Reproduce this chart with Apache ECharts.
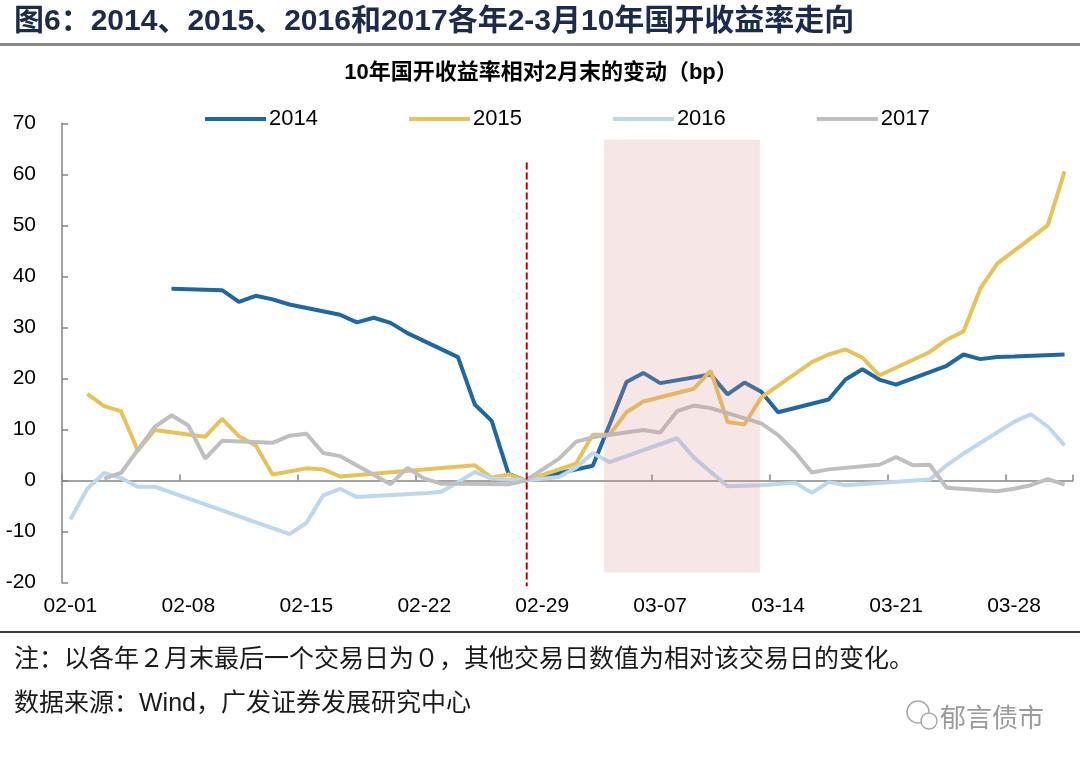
<!DOCTYPE html>
<html>
<head>
<meta charset="utf-8">
<script src="https://cdn.jsdelivr.net/npm/echarts@6/dist/echarts.min.js"></script>
<style>
html,body{margin:0;padding:0;background:#fff;}
#main{width:1080px;height:764px;}
</style>
</head>
<body>
<div id="main"></div>
<script>
const categories = [
 '02-01','02-02','02-03','02-04','02-05','02-06','02-07','02-08','02-09','02-10',
 '02-11','02-12','02-13','02-14','02-15','02-16','02-17','02-18','02-19','02-20',
 '02-21','02-22','02-23','02-24','02-25','02-26','02-27','02-28','02-29',
 '03-01','03-02','03-03','03-04','03-05','03-06','03-07','03-08','03-09','03-10',
 '03-11','03-12','03-13','03-14','03-15','03-16','03-17','03-18','03-19','03-20',
 '03-21','03-22','03-23','03-24','03-25','03-26','03-27','03-28','03-29','03-30','03-31'
];
const seriesNames = ['2014','2015','2016','2017'];
const y2014 = [
 null,null,null,null,null,null,37.6,null,null,37.3,
 35.0,36.2,35.5,34.5,null,null,32.5,31.0,31.9,30.9,
 28.9,null,null,24.2,14.9,11.7,1.3,0,null,
 null,null,2.9,11.0,19.3,21.1,19.1,null,null,20.8,
 16.9,19.2,17.4,13.4,null,null,15.9,19.8,21.8,19.8,
 18.8,null,null,22.5,24.7,23.8,24.2,24.3,null,null,24.7
];
const y2015 = [
 null,17.0,14.6,13.6,5.9,9.9,null,null,8.6,12.1,
 8.7,6.9,1.2,null,2.4,2.2,0.8,null,null,null,
 null,null,null,null,3.0,0.6,1.2,0,null,
 null,3.3,9.0,9.0,13.4,15.5,null,null,18.0,21.5,
 11.5,11.0,16.3,null,null,23.2,24.7,25.7,24.1,20.6,
 null,null,25.2,27.6,29.2,37.6,42.5,null,null,50.0,60.6
];
const y2016 = [
 -7.6,-1.6,1.5,0.5,-1.2,-1.2,null,null,null,null,
 null,null,null,-10.5,-8.3,-2.9,-1.6,-3.2,-3.0,null,
 null,-2.5,-2.2,-0.3,1.7,0.4,0.2,0,null,
 0.7,2.5,5.4,3.6,null,null,null,8.3,4.5,null,
 -1.1,null,-0.9,null,-0.4,-2.4,-0.3,-0.9,null,null,
 null,null,0.2,3.0,5.3,null,null,11.5,13.0,10.6,6.9
];
const y2017 = [
 null,null,0.4,1.5,null,10.5,12.8,10.8,4.3,7.8,
 null,null,7.4,8.8,9.2,5.4,4.8,null,null,-0.7,
 2.5,0.4,-0.6,-0.6,null,null,-0.7,0,null,
 4.3,7.6,8.5,null,null,9.9,9.4,13.6,14.7,14.2,
 null,null,11.2,8.9,5.6,1.6,2.2,null,null,3.1,
 4.6,3.0,3.1,-1.4,null,null,-2.1,-1.6,-0.9,0.3,-0.8
];
const yTicks = {min: -20, max: 70, interval: 10};
// reference day (02-28) position and highlighted window on a day-count scale
const refLineX = [27.58, 27.58];
const refLineY = [62.3, -20.7];
const shadeWin = {x0: 32.17, x1: 41.42, y0: -18, y1: 66.8};

const colors = ['#1f67a3', '#e6c35a', '#bdd7ee', '#bfbfbf'];
const FONT = '"Liberation Sans", Arial, "Noto Sans CJK SC", sans-serif';
const dataSets = [y2014, y2015, y2016, y2017];

const chart = echarts.init(document.getElementById('main'), null, {renderer: 'canvas'});

const lineSeries = seriesNames.map((n, k) => ({
  name: n,
  type: 'line',
  xAxisIndex: 0,
  yAxisIndex: 0,
  data: dataSets[k],
  connectNulls: true,
  symbol: 'none',
  smooth: false,
  lineStyle: {width: 4, color: colors[k]},
  itemStyle: {color: colors[k]},
  z: 2 + k * 0.1,
  animation: false
}));

const refSeries = {
  name: 'ref',
  type: 'line',
  xAxisIndex: 2,
  yAxisIndex: 0,
  data: refLineX.map((x, i) => [x, refLineY[i]]),
  clip: false,
  symbol: 'none',
  silent: true,
  z: 5,
  lineStyle: {color: '#c00000', width: 2, type: [7, 3]},
  animation: false
};

const helper = {
  name: 'shade',
  type: 'line',
  xAxisIndex: 2,
  yAxisIndex: 0,
  data: [],
  z: 6,
  silent: true,
  animation: false,
  markArea: {
    silent: true,
    z: 6,
    itemStyle: {color: 'rgba(220,140,140,0.22)'},
    data: [[{xAxis: shadeWin.x0, yAxis: shadeWin.y1}, {xAxis: shadeWin.x1, yAxis: shadeWin.y0}]]
  }
};

const option = {
  backgroundColor: '#fff',
  animation: false,
  textStyle: {fontFamily: FONT},
  grid: {left: 62, right: 7, top: 123.3, bottom: 181.3, containLabel: false},
  legend: {
    data: seriesNames,
    left: 200,
    top: 103,
    icon: 'rect',
    itemWidth: 61,
    itemHeight: 4,
    itemGap: 91,
    textStyle: {fontSize: 22, color: '#000', fontFamily: FONT, padding: [0, 0, 0, -2]},
    selectedMode: false
  },
  xAxis: [
    {
      type: 'category',
      data: categories,
      boundaryGap: true,
      position: 'bottom',
      axisLine: {show: false, onZero: false},
      axisTick: {show: false},
      splitLine: {show: false},
      axisLabel: {interval: 6, fontSize: 21, color: '#000', margin: 13, fontFamily: FONT}
    },
    {
      type: 'category',
      data: categories,
      boundaryGap: true,
      position: 'bottom',
      axisLine: {show: true, onZero: true, lineStyle: {color: '#858585', width: 1.5}},
      axisTick: {show: true, inside: true, interval: 6, length: 6, lineStyle: {color: '#858585', width: 1.5}},
      axisLabel: {show: false},
      splitLine: {show: false}
    },
    {
      type: 'value',
      min: 0,
      max: 60,
      show: false
    }
  ],
  yAxis: {
    type: 'value',
    min: yTicks.min,
    max: yTicks.max,
    interval: yTicks.interval,
    axisLine: {show: true, onZero: false, lineStyle: {color: '#858585', width: 1.5}},
    axisTick: {show: true, inside: true, length: 6, lineStyle: {color: '#858585', width: 1.5}},
    splitLine: {show: false},
    axisLabel: {fontSize: 21, color: '#000', margin: 26, fontFamily: FONT}
  },
  series: lineSeries.concat([refSeries, helper]),
  graphic: [
    {type: 'text', left: 14, top: 7, style: {text: '图6：2014、2015、2016和2017各年2-3月10年国开收益率走向', font: 'bold 30px ' + FONT, fill: '#1c2b4a'}},
    {type: 'rect', left: 0, top: 43, shape: {width: 1080, height: 3}, style: {fill: '#8a8a8a'}},
    {type: 'text', x: 541, y: 73, style: {text: '10年国开收益率相对2月末的变动（bp）', font: 'bold 22px ' + FONT, fill: '#000', textAlign: 'center', textVerticalAlign: 'middle'}},
    {type: 'rect', left: 0, top: 631, shape: {width: 1080, height: 2}, style: {fill: '#3a3a3a'}},
    {type: 'text', x: 14, y: 660, style: {text: '注：以各年２月末最后一个交易日为０，其他交易日数值为相对该交易日的变化。', font: '25px ' + FONT, fill: '#1a1a1a', textVerticalAlign: 'middle'}},
    {type: 'text', x: 14, y: 704, style: {text: '数据来源：Wind，广发证券发展研究中心', font: '25px ' + FONT, fill: '#1a1a1a', textVerticalAlign: 'middle'}},
    {type: 'circle', shape: {cx: 918, cy: 712, r: 11}, style: {fill: '#fff', stroke: '#a8a8a8', lineWidth: 1.5}},
    {type: 'circle', shape: {cx: 929, cy: 721, r: 8}, style: {fill: '#fff', stroke: '#a8a8a8', lineWidth: 1.5}},
    {type: 'text', x: 940, y: 717, style: {text: '郁言债市', font: '26px "Noto Sans CJK SC", sans-serif', fill: '#9a9a9a', textVerticalAlign: 'middle'}}
  ]
};
chart.setOption(option);
</script>
</body>
</html>
